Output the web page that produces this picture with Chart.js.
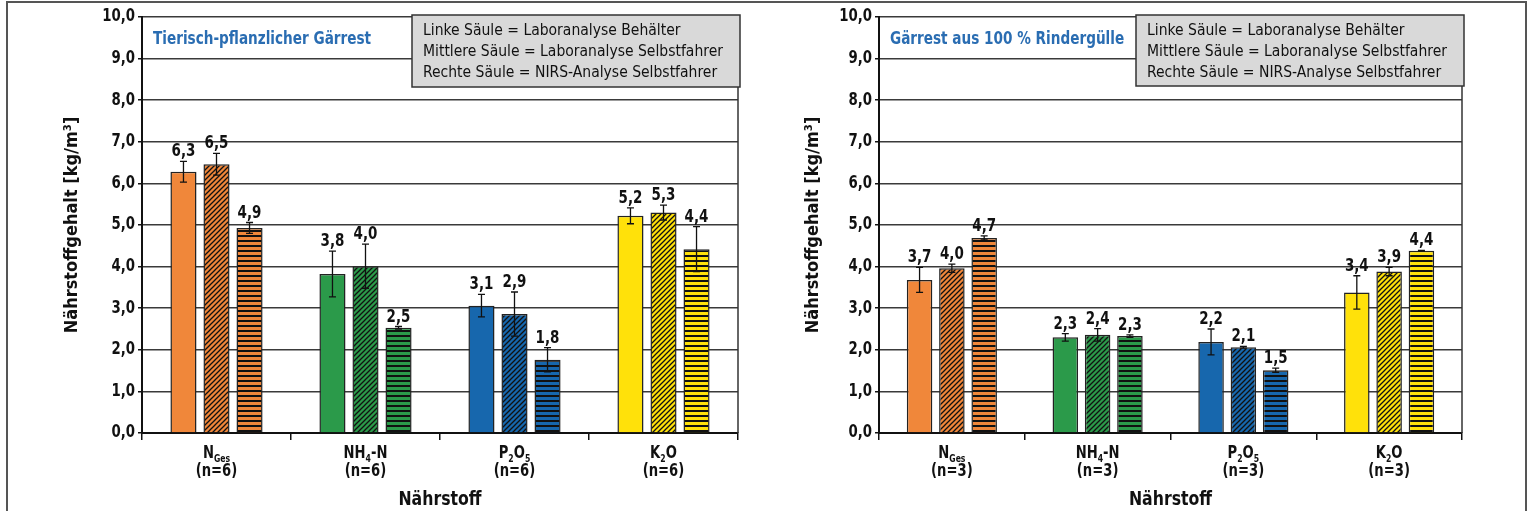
<!DOCTYPE html>
<html lang="de">
<head>
    <meta charset="UTF-8">
    <title>Nährstoffgehalt Gärrest</title>
    <script src="https://cdn.jsdelivr.net/npm/chart.js"></script>
    <style>
        body { margin: 0; background: #fff; }
        .frame { position: absolute; left: 6px; top: 1px; width: 1517px; height: 520px; border: 2px solid #555; border-bottom: none; }
        canvas { position: absolute; top: 0; }
        #chart-left { left: 0; }
        #chart-right { left: 765px; }
    </style>
</head>
<body>
    <div class="frame"></div>
    <canvas id="chart-left" width="765" height="511"></canvas>
    <canvas id="chart-right" width="765" height="511"></canvas>

    <script>
        // Data
        const categories = ['NGes', 'NH4-N', 'P2O5', 'K2O'];
        // label parts: [text, isSubscript]
        const categoryParts = [
            [['N', 0], ['Ges', 1]],
            [['NH', 0], ['4', 1], ['-N', 0]],
            [['P', 0], ['2', 1], ['O', 0], ['5', 1]],
            [['K', 0], ['2', 1], ['O', 0]]
        ];
        const yTicks = [0, 1, 2, 3, 4, 5, 6, 7, 8, 9, 10];
        const legendLines = [
            'Linke Säule = Laboranalyse Behälter',
            'Mittlere Säule = Laboranalyse Selbstfahrer',
            'Rechte Säule = NIRS-Analyse Selbstfahrer'
        ];

        // Tierisch-pflanzlicher Gärrest (n=6)
        const leftBehaelter = [6.28, 3.82, 3.06, 5.22];
        const leftBehaelterErr = [0.25, 0.55, 0.27, 0.19];
        const leftSelbst = [6.46, 4.01, 2.86, 5.30];
        const leftSelbstErr = [0.26, 0.53, 0.53, 0.18];
        const leftNirs = [4.93, 2.53, 1.76, 4.42];
        const leftNirsErr = [0.13, 0.03, 0.29, 0.54];

        // Gärrest aus 100 % Rindergülle (n=3)
        const rightBehaelter = [3.68, 2.30, 2.19, 3.38];
        const rightBehaelterErr = [0.30, 0.09, 0.31, 0.40];
        const rightSelbst = [3.96, 2.36, 2.06, 3.88];
        const rightSelbstErr = [0.10, 0.15, 0.02, 0.10];
        const rightNirs = [4.69, 2.33, 1.51, 4.38];
        const rightNirsErr = [0.05, 0.03, 0.05, 0.01];

        const nutrientColors = ['#f0873a', '#2b9a4a', '#1767ad', '#ffe10a'];

        const FONT = "'Liberation Sans Narrow', 'DejaVu Sans Condensed', 'Open Sans', sans-serif";
        Chart.defaults.font.family = FONT;
        Chart.defaults.color = '#111';

        const fmt = v => v.toFixed(1).replace('.', ',');

        // draws text squeezed horizontally (the original uses a condensed face)
        function squeezedText(ctx, text, x, y, sx) {
            ctx.save();
            ctx.translate(x, y);
            ctx.scale(sx, 1);
            ctx.fillText(text, 0, 0);
            ctx.restore();
        }

        // hatch patterns
        function diagonalPattern(color) {
            const c = document.createElement('canvas');
            c.width = 5; c.height = 5;
            const g = c.getContext('2d');
            g.fillStyle = color;
            g.fillRect(0, 0, 5, 5);
            g.strokeStyle = '#111';
            g.lineWidth = 1.3;
            g.beginPath();
            g.moveTo(-1, 6); g.lineTo(6, -1);
            g.moveTo(-1, 1); g.lineTo(1, -1);
            g.moveTo(4, 6); g.lineTo(6, 4);
            g.stroke();
            return g.createPattern(c, 'repeat');
        }

        function stripePattern(color) {
            const c = document.createElement('canvas');
            c.width = 4; c.height = 5;
            const g = c.getContext('2d');
            g.fillStyle = color;
            g.fillRect(0, 0, 4, 5);
            g.fillStyle = '#111';
            g.fillRect(0, 0, 4, 2);
            return g.createPattern(c, 'repeat');
        }

        const overlayPlugin = {
            id: 'overlay',
            afterDatasetsDraw(chart) {
                const ctx = chart.ctx;
                const y = chart.scales.y;
                ctx.save();
                chart.data.datasets.forEach((ds, i) => {
                    const meta = chart.getDatasetMeta(i);
                    meta.data.forEach((bar, j) => {
                        const v = ds.data[j], e = ds.errors[j];
                        const top = y.getPixelForValue(v + e);
                        const bot = y.getPixelForValue(v - e);
                        ctx.strokeStyle = '#111';
                        ctx.lineWidth = 1.3;
                        ctx.beginPath();
                        ctx.moveTo(bar.x, top); ctx.lineTo(bar.x, bot);
                        ctx.moveTo(bar.x - 3.5, top); ctx.lineTo(bar.x + 3.5, top);
                        ctx.moveTo(bar.x - 3.5, bot); ctx.lineTo(bar.x + 3.5, bot);
                        ctx.stroke();
                        ctx.fillStyle = '#111';
                        ctx.font = 'bold 17px ' + FONT;
                        ctx.textAlign = 'center';
                        ctx.textBaseline = 'alphabetic';
                        squeezedText(ctx, fmt(v), bar.x, top - 5, 0.88);
                    });
                });
                ctx.restore();
            },
            afterDraw(chart, args, opts) {
                const ctx = chart.ctx;
                const area = chart.chartArea;
                const x = chart.scales.x;
                const y = chart.scales.y;
                ctx.save();

                // right border of plot
                ctx.strokeStyle = '#333';
                ctx.lineWidth = 1.5;
                ctx.beginPath();
                ctx.moveTo(area.right, area.top);
                ctx.lineTo(area.right, area.bottom);
                ctx.stroke();

                // y tick labels
                ctx.fillStyle = '#111';
                ctx.font = 'bold 17px ' + FONT;
                ctx.textAlign = 'right';
                ctx.textBaseline = 'middle';
                yTicks.forEach(v => {
                    squeezedText(ctx, fmt(v), area.left - 7, y.getPixelForValue(v), 0.87);
                });

                // category labels with subscripts
                ctx.textBaseline = 'alphabetic';
                const sq = 0.86;
                categoryParts.forEach((parts, i) => {
                    const cx = x.getPixelForTick(i);
                    let total = 0;
                    parts.forEach(p => {
                        ctx.font = (p[1] ? 'bold 10px ' : 'bold 17px ') + FONT;
                        total += ctx.measureText(p[0]).width * sq;
                    });
                    let px = cx - total / 2;
                    ctx.textAlign = 'left';
                    parts.forEach(p => {
                        ctx.font = (p[1] ? 'bold 10px ' : 'bold 17px ') + FONT;
                        squeezedText(ctx, p[0], px, p[1] ? 462 : 458, sq);
                        px += ctx.measureText(p[0]).width * sq;
                    });
                    ctx.font = 'bold 17px ' + FONT;
                    ctx.textAlign = 'center';
                    squeezedText(ctx, '(n=' + opts.n + ')', cx, 476, sq);
                });

                // x axis title
                ctx.font = 'bold 19px ' + FONT;
                ctx.textAlign = 'center';
                squeezedText(ctx, 'Nährstoff', (area.left + area.right) / 2, 505, 0.92);

                // y axis title
                ctx.save();
                ctx.translate(opts.yTitleX, (area.top + area.bottom) / 2);
                ctx.rotate(-Math.PI / 2);
                ctx.font = 'bold 18px ' + FONT;
                ctx.textBaseline = 'middle';
                ctx.fillText('Nährstoffgehalt [kg/m³]', 0, 0);
                ctx.restore();

                // chart title
                ctx.fillStyle = '#2a6db2';
                ctx.font = 'bold 17px ' + FONT;
                ctx.textAlign = 'left';
                ctx.textBaseline = 'middle';
                squeezedText(ctx, opts.title, area.left + 11, 40, 0.89);

                // legend box
                const b = opts.box;
                ctx.fillStyle = '#d9d9d9';
                ctx.fillRect(b.x, b.y, b.w, b.h);
                ctx.strokeStyle = '#333';
                ctx.lineWidth = 1.5;
                ctx.strokeRect(b.x, b.y, b.w, b.h);
                ctx.fillStyle = '#111';
                ctx.font = '16px ' + FONT;
                ctx.textBaseline = 'alphabetic';
                legendLines.forEach((t, i) => {
                    squeezedText(ctx, t, b.x + 11, b.y + 20 + i * 21, 0.97);
                });
                ctx.restore();
            }
        };

        function makeChart(id, sets, cfg) {
            const ctx = document.getElementById(id).getContext('2d');
            const datasets = sets.map((s, k) => ({
                label: s.label,
                data: s.values,
                errors: s.errors,
                backgroundColor: nutrientColors.map(c => k === 0 ? c : (k === 1 ? diagonalPattern(c) : stripePattern(c))),
                borderColor: '#222',
                borderWidth: 1.5,
                categoryPercentage: 0.665,
                barPercentage: 0.79
            }));

            return new Chart(ctx, {
                type: 'bar',
                data: { labels: categories, datasets: datasets },
                options: {
                    responsive: false,
                    animation: false,
                    devicePixelRatio: 1,
                    layout: { padding: { top: 17, right: cfg.padRight, left: 0, bottom: 0 } },
                    plugins: {
                        legend: { display: false },
                        tooltip: { enabled: false },
                        overlay: { title: cfg.title, n: cfg.n, box: cfg.box, yTitleX: cfg.yTitleX }
                    },
                    scales: {
                        x: {
                            afterFit: s => { s.height = 78; },
                            ticks: { display: false },
                            grid: { display: true, drawOnChartArea: false, drawTicks: true, tickLength: 7, color: '#111', lineWidth: 1.5 },
                            border: { color: '#111', width: 2 }
                        },
                        y: {
                            min: 0,
                            max: 10,
                            afterFit: s => { s.width = cfg.yWidth; },
                            afterBuildTicks: s => { s.ticks = yTicks.map(v => ({ value: v })); },
                            ticks: { display: false },
                            grid: { color: '#3a3a3a', lineWidth: 1.5, tickLength: 4, tickColor: '#111' },
                            border: { color: '#111', width: 2 }
                        }
                    }
                },
                plugins: [overlayPlugin]
            });
        }

        makeChart('chart-left', [
            { label: 'Laboranalyse Behälter', values: leftBehaelter, errors: leftBehaelterErr },
            { label: 'Laboranalyse Selbstfahrer', values: leftSelbst, errors: leftSelbstErr },
            { label: 'NIRS-Analyse Selbstfahrer', values: leftNirs, errors: leftNirsErr }
        ], {
            title: 'Tierisch-pflanzlicher Gärrest', n: 6, padRight: 27, yWidth: 142, yTitleX: 72,
            box: { x: 412, y: 15, w: 328, h: 72 }
        });

        makeChart('chart-right', [
            { label: 'Laboranalyse Behälter', values: rightBehaelter, errors: rightBehaelterErr },
            { label: 'Laboranalyse Selbstfahrer', values: rightSelbst, errors: rightSelbstErr },
            { label: 'NIRS-Analyse Selbstfahrer', values: rightNirs, errors: rightNirsErr }
        ], {
            title: 'Gärrest aus 100 % Rindergülle', n: 3, padRight: 68, yWidth: 114, yTitleX: 48,
            box: { x: 371, y: 15, w: 328, h: 71 }
        });
    </script>
</body>
</html>
